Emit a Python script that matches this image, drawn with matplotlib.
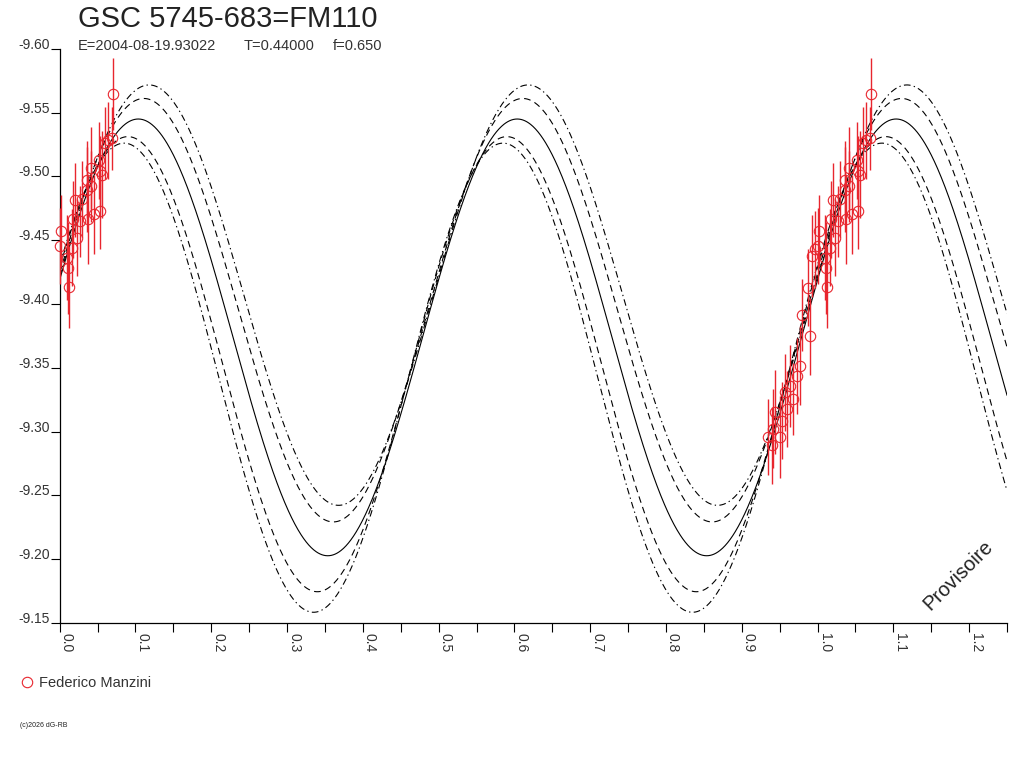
"""
Courbe de phase GSC 5745-683=FM110 : modèle sinusoïdal (double onde) avec ses
enveloppes, et les mesures de l'observateur repliées sur la période.

Génère : out.png
"""

import matplotlib

matplotlib.use("Agg")
import matplotlib.pyplot as plt
import numpy as np
from matplotlib.lines import Line2D

plt.rcParams["font.family"] = ["Liberation Sans", "DejaVu Sans"]

RED = "#e8262e"

phase = [
    1.0707, 1.0690, 1.0633, 1.0602, 1.0515, 1.0409, 1.0532, 1.0364, 1.0554,
    1.0409, 1.0356, 1.0202, 1.0290, 1.0532, 1.0453, 1.0377, 1.0179, 1.0268,
    1.0017, 1.0224, 1.0158, 1.0003, 1.0092, 1.0113, 1.0123,
    0.9964, 0.9921, 0.9876, 0.9789, 0.9898, 0.9767, 0.9723, 0.9635, 0.9569,
    0.9678, 0.9591, 0.9437, 0.9525, 0.9414, 0.9348, 0.9503, 0.9393,
]
mag = [
    -9.5646, -9.5297, -9.5281, -9.5261, -9.5125, -9.5066, -9.5039, -9.4974, -9.5013,
    -9.4922, -9.4896, -9.4818, -9.4823, -9.4727, -9.4701, -9.4662, -9.4662, -9.4648,
    -9.4570, -9.4519, -9.4441, -9.4453, -9.4363, -9.4284, -9.4133,
    -9.4427, -9.4375, -9.4128, -9.3912, -9.3745, -9.3516, -9.3437, -9.3359, -9.3308,
    -9.3256, -9.3177, -9.3152, -9.3086, -9.3021, -9.2956, -9.2956, -9.2891,
]
err = [
    0.028, 0.025, 0.030, 0.028, 0.030, 0.032, 0.028, 0.030, 0.034,
    0.028, 0.033, 0.029, 0.030, 0.030, 0.031, 0.035, 0.030, 0.028,
    0.028, 0.030, 0.030, 0.030, 0.033, 0.036, 0.032,
    0.030, 0.032, 0.030, 0.028, 0.030, 0.031, 0.030, 0.032, 0.030,
    0.028, 0.030, 0.033, 0.030, 0.031, 0.030, 0.032, 0.030,
]

# Modèle : mag = moyenne - amplitude * cos(4*pi*(phase - phase_max))
model_mean = [-9.3738, -9.4069, -9.3951, -9.3528, -9.3422]
model_amp = [0.1711, 0.1647, 0.1659, 0.1783, 0.1838]
model_peak = [0.1037, 0.118, 0.111, 0.090, 0.085]
model_style = ["-", (0, (6, 3, 1.2, 3)), (0, (6, 4)), (0, (6, 4)), (0, (6, 3, 1.2, 3))]

x_ticks = np.arange(0, 1.2501, 0.05)
y_ticks = np.arange(-9.60, -9.1499, 0.05)


def main() -> None:
    fig = plt.figure(figsize=(10.24, 7.68), dpi=100)
    ax = fig.add_axes([0.0583, 0.1888, 0.9251, 0.7478])

    xs = np.linspace(0, 1.25, 1500)
    for m, a, p, ls in zip(model_mean, model_amp, model_peak, model_style):
        ax.plot(xs, m - a * np.cos(4 * np.pi * (xs - p)), color="black",
                lw=0.8, linestyle=ls)

    ph = np.array(phase)
    mg = np.array(mag)
    er = np.array(err)
    # repli : les points au-delà de 1.0 apparaissent aussi au début
    left = ph >= 1.0
    all_x = np.concatenate([ph, ph[left] - 1.0])
    all_y = np.concatenate([mg, mg[left]])
    all_e = np.concatenate([er, er[left]])
    ax.errorbar(all_x, all_y, yerr=all_e, fmt="o", ms=7.5, mfc="none", mec=RED,
                mew=0.8, ecolor=RED, elinewidth=1.0, capsize=0, clip_on=False,
                zorder=3)

    ax.set_xlim(0, 1.25)
    ax.set_ylim(-9.15, -9.60)
    ax.set_xticks(x_ticks)
    ax.set_xticklabels([f"{v:.1f}" if i % 2 == 0 else "" for i, v in enumerate(x_ticks)],
                       rotation=-90, ha="left", va="top")
    ax.set_yticks(y_ticks)
    ax.set_yticklabels([f"{v:.2f}" for v in y_ticks], va="baseline")
    ax.tick_params(direction="out", length=6.5, width=0.8, labelsize=10,
                   color="black", labelcolor="#333333")
    ax.tick_params(axis="y", pad=0.5)
    ax.tick_params(axis="x", pad=1)
    for side in ("top", "right"):
        ax.spines[side].set_visible(False)
    for side in ("left", "bottom"):
        ax.spines[side].set_linewidth(0.9)

    fig.text(0.076, 0.9648, "GSC 5745-683=FM110", fontsize=21, color="#222222")
    fig.text(0.076, 0.935, "E=2004-08-19.93022", fontsize=10.5, color="#333333")
    fig.text(0.238, 0.935, "T=0.44000", fontsize=10.5, color="#333333")
    fig.text(0.3255, 0.935, "f=0.650", fontsize=10.5, color="#333333")
    fig.text(0.9355, 0.251, "Provisoire", fontsize=14.5, rotation=45,
             ha="center", va="center", color="#222222")
    fig.text(0.0195, 0.053, "(c)2026 dG-RB", fontsize=5, color="#222222")

    handle = Line2D([], [], marker="o", ms=7.5, mfc="none", mec=RED, mew=0.8,
                    linestyle="none", label="Federico Manzini")
    fig.legend(handles=[handle], loc="center left", bbox_to_anchor=(0.008, 0.111),
               frameon=False, fontsize=10.5, handlelength=0.8, handletextpad=0.4,
               labelcolor="#333333")

    fig.savefig("out.png", dpi=100)


if __name__ == "__main__":
    main()
